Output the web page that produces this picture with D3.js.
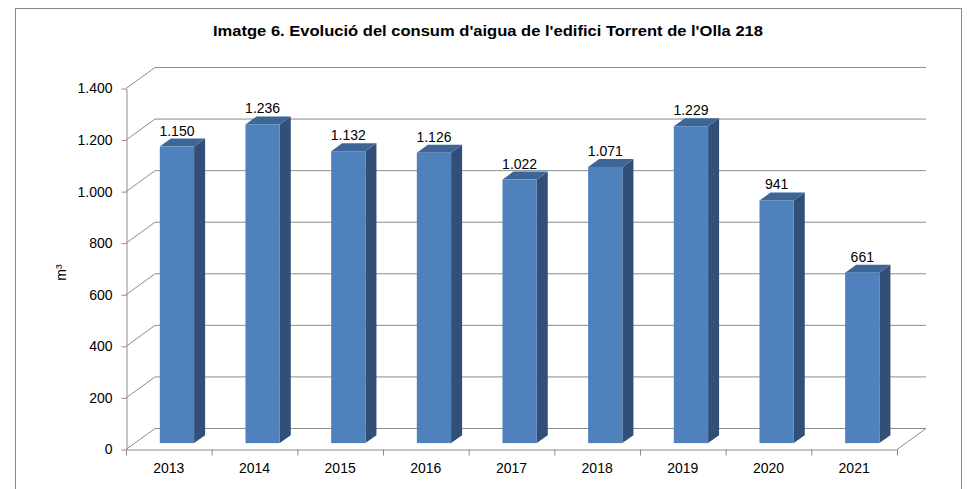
<!DOCTYPE html>
<html>
<head>
<meta charset="utf-8">
<script src="https://cdn.jsdelivr.net/npm/d3@7"></script>
<style>
  body { margin: 0; background: #fff; }
  text { font-family: "Liberation Sans", Arial, sans-serif; fill: #000; }
</style>
</head>
<body>
<div id="chart-wrapper"></div>
<script>

//////////////////////////////////////////////////
/////////////////// Data /////////////////////////
//////////////////////////////////////////////////

const years = ["2013", "2014", "2015", "2016", "2017", "2018", "2019", "2020", "2021"]
const consum = [1150, 1236, 1132, 1126, 1022, 1071, 1229, 941, 661]
const yTicks = [0, 200, 400, 600, 800, 1000, 1200, 1400]
const titleText = "Imatge 6. Evolució del consum d'aigua de l'edifici Torrent de l'Olla 218"
const yTitle = "m³"

//////////////////////////////////////////////////
/////////////////// Constants ////////////////////
//////////////////////////////////////////////////

const width = 967
const height = 489
const plot = {left: 126, right: 897, top: 88, bottom: 449}
// 3D depth offset of the back wall
const depth = {x: 29, y: 21}
// bars sit between these fractions of the depth
const barFront = 0.28
const barBack = 0.66
const gridColour = "#8c8c8c"
const frontColour = "#4f81bd"
const topColour = "#3c6696"
const sideColour = "#324f78"

// Catalan style numbers: 1.400
const locale = d3.formatLocale({decimal: ",", thousands: ".", grouping: [3], currency: ["", " €"]})
const fmt = locale.format(",")

/// SVG ///
const svg = d3.select("#chart-wrapper")
  .append("svg")
    .attr("width", width)
    .attr("height", height)
const g = svg.append("g")

// outer frame (bottom edge falls outside the picture)
g.append("rect")
  .attr("x", 15.5)
  .attr("y", 8.5)
  .attr("width", 946)
  .attr("height", 500)
  .attr("fill", "#fff")
  .attr("stroke", "#8a8a8a")

// title
g.append("text")
  .attr("x", 488)
  .attr("y", 36)
  .attr("text-anchor", "middle")
  .attr("font-weight", "bold")
  .attr("font-size", 15)
  .attr("textLength", 550)
  .attr("lengthAdjust", "spacingAndGlyphs")
  .text(titleText)

/// Scales ///
const xScale = d3.scaleBand()
  .domain(years)
  .range([plot.left, plot.right])
  .paddingInner(0.6)
  .paddingOuter(0.3)
const yScale = d3.scaleLinear()
  .domain([0, 1400])
  .range([plot.bottom, plot.top])

/// Walls and gridlines ///
const wallG = g.append("g")
  .attr("stroke", gridColour)
  .attr("fill", "none")
  .attr("stroke-width", 1)

// back wall gridlines
wallG.selectAll(".back-grid")
  .data(yTicks)
  .join("line")
    .attr("class", "back-grid")
    .attr("x1", plot.left + depth.x)
    .attr("x2", plot.right + depth.x)
    .attr("y1", d => yScale(d) - depth.y + 0.5)
    .attr("y2", d => yScale(d) - depth.y + 0.5)

// left side wall gridlines
wallG.selectAll(".side-grid")
  .data(yTicks)
  .join("line")
    .attr("class", "side-grid")
    .attr("x1", plot.left)
    .attr("x2", plot.left + depth.x)
    .attr("y1", d => yScale(d) + 0.5)
    .attr("y2", d => yScale(d) - depth.y + 0.5)

// floor right edge
wallG.append("line")
  .attr("x1", plot.right)
  .attr("x2", plot.right + depth.x)
  .attr("y1", plot.bottom + 0.5)
  .attr("y2", plot.bottom - depth.y + 0.5)

/// Axes ///
const yAxis = gg => gg
  .attr("transform", `translate(${plot.left + 0.5}, 0.5)`)
  .call(d3.axisLeft(yScale).tickValues(yTicks).tickFormat(fmt).tickSize(5).tickPadding(9).tickSizeOuter(0))
  .call(gg => gg.selectAll("line, path").attr("stroke", gridColour))
  .call(gg => gg.selectAll("text").attr("font-size", 14).attr("fill", "#000").attr("font-family", "Liberation Sans, Arial, sans-serif"))

const xAxis = gg => gg
  .attr("transform", `translate(0, ${plot.bottom + 0.5})`)
  .call(d3.axisBottom(xScale).tickSize(0).tickPadding(14).tickSizeOuter(0))
  .call(gg => gg.select(".domain").attr("stroke", gridColour))
  .call(gg => gg.selectAll("text").attr("font-size", 14).attr("fill", "#000").attr("font-family", "Liberation Sans, Arial, sans-serif"))

g.append("g").call(yAxis)
const gx = g.append("g").call(xAxis)

// category boundary ticks
gx.selectAll(".boundary")
  .data(d3.range(years.length + 1))
  .join("line")
    .attr("class", "boundary")
    .attr("x1", i => plot.left + i * xScale.step() + 0.5)
    .attr("x2", i => plot.left + i * xScale.step() + 0.5)
    .attr("y1", 0)
    .attr("y2", 6)
    .attr("stroke", gridColour)

// y title
g.append("text")
  .attr("transform", `translate(66, ${(plot.top + plot.bottom) / 2 + 4}) rotate(-90)`)
  .attr("text-anchor", "middle")
  .attr("font-size", 14)
  .text(yTitle)

/// Bars ///
const f = {x: barFront * depth.x, y: -barFront * depth.y}
const b = {x: barBack * depth.x, y: -barBack * depth.y}

const barsG = g.selectAll(".bar")
  .data(years.map((d, i) => ({year: d, value: consum[i]})))
  .join("g")
    .attr("class", "bar")

// side face
barsG.append("path")
  .attr("fill", sideColour)
  .attr("d", d => {
    const x = xScale(d.year) + xScale.bandwidth()
    const y0 = yScale(0), y1 = yScale(d.value)
    return `M${x + f.x},${y1 + f.y}L${x + b.x},${y1 + b.y}L${x + b.x},${y0 + b.y}L${x + f.x},${y0 + f.y}Z`
  })

// top face
barsG.append("path")
  .attr("fill", topColour)
  .attr("d", d => {
    const x0 = xScale(d.year), x1 = x0 + xScale.bandwidth()
    const y = yScale(d.value)
    return `M${x0 + f.x},${y + f.y}L${x0 + b.x},${y + b.y}L${x1 + b.x},${y + b.y}L${x1 + f.x},${y + f.y}Z`
  })

// front face
barsG.append("rect")
  .attr("fill", frontColour)
  .attr("x", d => xScale(d.year) + f.x)
  .attr("y", d => yScale(d.value) + f.y)
  .attr("width", xScale.bandwidth())
  .attr("height", d => yScale(0) - yScale(d.value))

// value labels
barsG.append("text")
  .attr("x", d => xScale(d.year) + f.x + xScale.bandwidth() / 2)
  .attr("y", d => yScale(d.value) + b.y - 3)
  .attr("text-anchor", "middle")
  .attr("font-size", 14)
  .text(d => fmt(d.value))

</script>
</body>
</html>
